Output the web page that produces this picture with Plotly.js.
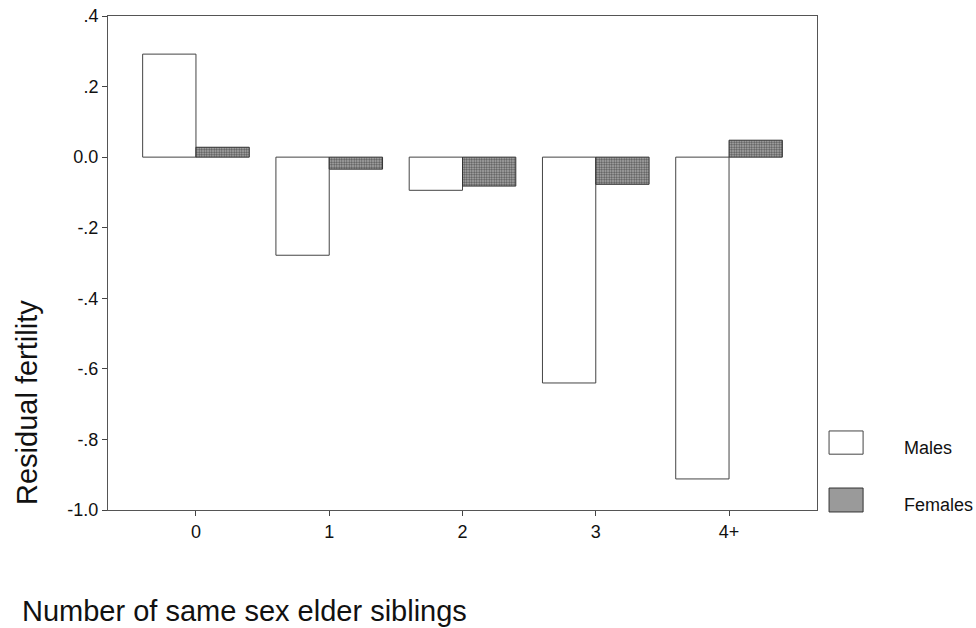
<!DOCTYPE html>
<html><head><meta charset="utf-8">
<script src="https://cdn.plot.ly/plotly-3.0.1.min.js"></script>
<style>body{margin:0;background:#fff}#chart{width:976px;height:628px}</style>
</head><body><div id="chart"></div>
<script>
const categories = ["0", "1", "2", "3", "4+"];
const males = [0.292, -0.278, -0.094, -0.640, -0.912];
const females = [0.028, -0.034, -0.082, -0.077, 0.048];
const yTickVals = [-1.0, -0.8, -0.6, -0.4, -0.2, 0.0, 0.2, 0.4];
const yTickText = ["-1.0", "-.8", "-.6", "-.4", "-.2", "0.0", ".2", ".4"];
const seriesNames = ["Males", "Females"];

const font = "Liberation Sans, Arial, sans-serif";
const traces = [
  {type: "bar", name: seriesNames[0], x: categories, y: males,
   marker: {color: "#ffffff", line: {color: "#444", width: 1}}, showlegend: false},
  {type: "bar", name: seriesNames[1], x: categories, y: females,
   marker: {color: "#a8a8a8", line: {color: "#333", width: 1},
            pattern: {shape: ".", fgcolor: "#555", bgcolor: "#b4b4b4", size: 2.5, solidity: 0.5}},
   showlegend: false}
];
const layout = {
  width: 976, height: 628,
  margin: {l: 108, r: 159, t: 16, b: 118},
  paper_bgcolor: "#fff", plot_bgcolor: "#fff",
  font: {family: font, color: "#111", size: 18},
  barmode: "group", bargap: 0.2, bargroupgap: 0,
  xaxis: {type: "category", range: [-0.66, 4.66], showline: true, mirror: true,
          linecolor: "#555", linewidth: 1, ticks: "outside", ticklen: 5, tickcolor: "#444",
          showgrid: false, zeroline: false, tickfont: {size: 18}},
  yaxis: {range: [-1.0, 0.4], tickvals: yTickVals, ticktext: yTickText, showline: true, mirror: true,
          linecolor: "#555", linewidth: 1, ticks: "outside", ticklen: 5, tickcolor: "#444",
          showgrid: false, zeroline: false, tickfont: {size: 18}},
  annotations: [
    {text: "Residual fertility", xref: "paper", yref: "paper", x: -0.114, y: 0.217,
     xanchor: "center", yanchor: "middle", textangle: -90, showarrow: false,
     font: {size: 29, family: font}},
    {text: "Number of same sex elder siblings", xref: "paper", yref: "paper", x: -0.124, y: -0.204,
     xanchor: "left", yanchor: "middle", showarrow: false, font: {size: 29, family: font}},
    {text: seriesNames[0], xref: "paper", yref: "paper", x: 1.12, y: 0.1255, xanchor: "left",
     yanchor: "middle", showarrow: false, font: {size: 18, family: font}},
    {text: seriesNames[1], xref: "paper", yref: "paper", x: 1.12, y: 0.010, xanchor: "left",
     yanchor: "middle", showarrow: false, font: {size: 18, family: font}}
  ],
  shapes: [
    {type: "rect", xref: "paper", yref: "paper", x0: 1.017, x1: 1.065, y0: 0.113, y1: 0.160,
     fillcolor: "#fff", line: {color: "#444", width: 1}},
    {type: "rect", xref: "paper", yref: "paper", x0: 1.017, x1: 1.065, y0: -0.004, y1: 0.0445,
     fillcolor: "#9a9a9a", line: {color: "#333", width: 1}}
  ]
};
Plotly.newPlot("chart", traces, layout, {displayModeBar: false, staticPlot: true});
</script></body></html>
